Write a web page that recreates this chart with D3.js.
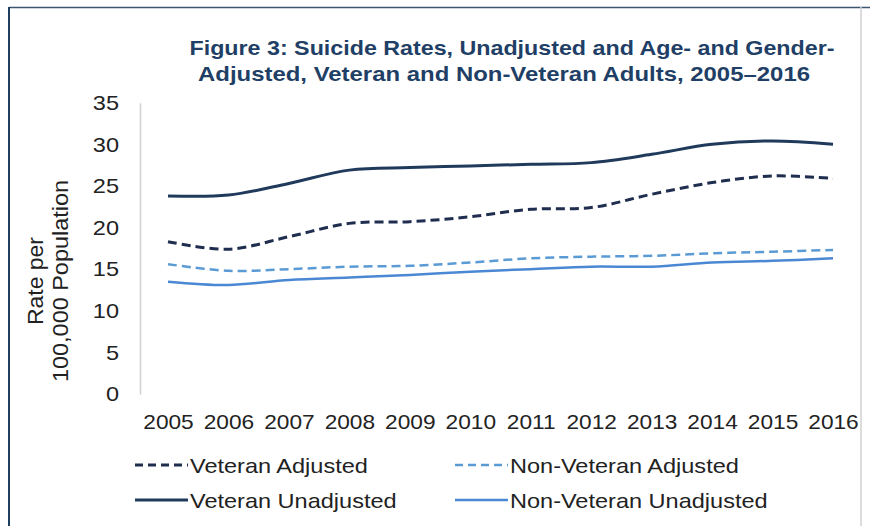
<!DOCTYPE html>
<html><head><meta charset="utf-8">
<script src="https://cdn.jsdelivr.net/npm/d3@7/dist/d3.min.js"></script>
<style>body{margin:0;background:#fff}svg{display:block;font-family:Arial,"Liberation Sans",sans-serif}</style>
</head><body><svg id="c" width="870" height="526"></svg>
<script>
const years = ["2005","2006","2007","2008","2009","2010","2011","2012","2013","2014","2015","2016"];
const veteranAdjusted    = [18.3,17.4,18.9,20.5,20.7,21.3,22.2,22.4,24.0,25.4,26.2,25.9];
const nonVeteranAdjusted = [15.6,14.8,15.0,15.3,15.4,15.8,16.3,16.5,16.6,16.9,17.1,17.3];
const veteranUnadjusted  = [23.8,23.9,25.3,26.9,27.2,27.4,27.6,27.8,28.8,30.0,30.4,30.0];
const nonVeteranUnadjusted=[13.5,13.1,13.7,14.0,14.3,14.7,15.0,15.3,15.3,15.8,16.0,16.3];
const yTicks = [0,5,10,15,20,25,30,35];
const titleLines = ["Figure 3: Suicide Rates, Unadjusted and Age- and Gender-","Adjusted, Veteran and Non-Veteran Adults, 2005\u20132016"];
const series = [
  {name:"Veteran Adjusted", values:veteranAdjusted, color:"#1f2d4f", dash:"9,5", width:3},
  {name:"Non-Veteran Adjusted", values:nonVeteranAdjusted, color:"#5b9bd5", dash:"9,5", width:2.5},
  {name:"Veteran Unadjusted", values:veteranUnadjusted, color:"#203a5c", dash:null, width:3},
  {name:"Non-Veteran Unadjusted", values:nonVeteranUnadjusted, color:"#4a88d4", dash:null, width:2.5}
];

const svg = d3.select("#c");
function stretch(sel, f){ sel.each(function(){ const l=this.getComputedTextLength(); this.setAttribute("textLength", l*f); this.setAttribute("lengthAdjust","spacingAndGlyphs"); }); }

// frame
svg.append("line").attr("x1",9).attr("x2",870).attr("y1",7.5).attr("y2",7.5).attr("stroke","#3b5570").attr("stroke-width",1.5);
svg.append("line").attr("x1",9).attr("x2",9).attr("y1",7).attr("y2",526).attr("stroke","#1f3f60").attr("stroke-width",2);
svg.append("line").attr("x1",861).attr("x2",861).attr("y1",7).attr("y2",526).attr("stroke","#d0d0d0").attr("stroke-width",1.5);

// title
svg.selectAll(".title").data(titleLines).join("text")
  .attr("x",(d,i)=>i?504:512).attr("y",(d,i)=>i?81:55)
  .attr("text-anchor","middle").attr("font-weight","bold").attr("font-size",21)
  .attr("fill","#1f3f66")
  .attr("textLength",(d,i)=>i?612:645).attr("lengthAdjust","spacingAndGlyphs")
  .text(d=>d);

const x = d3.scalePoint().domain(years).range([168,833]);
const y = d3.scaleLinear().domain([0,35]).range([394,102.7]);

const ya = svg.append("g").attr("transform","translate(140,0)")
  .call(d3.axisLeft(y).tickValues(yTicks).tickSize(0).tickPadding(21));
ya.select(".domain").attr("stroke","#d0d0d0").attr("stroke-width",1.5);
ya.selectAll("text").attr("font-size",21).attr("fill","#222").attr("font-family","Arial, 'Liberation Sans', sans-serif");
stretch(ya.selectAll("text"), 1.12);

const xa = svg.append("g").attr("transform","translate(0,394)")
  .call(d3.axisBottom(x).tickSize(0).tickPadding(20));
xa.select(".domain").remove();
xa.selectAll("text").attr("font-size",21).attr("fill","#222").attr("font-family","Arial, 'Liberation Sans', sans-serif");
stretch(xa.selectAll("text"), 1.08);

// y label
const yl = svg.append("text").attr("transform","translate(0,281) rotate(-90)")
  .attr("text-anchor","middle").attr("font-size",22).attr("fill","#222");
yl.append("tspan").attr("x",0).attr("y",43).attr("textLength",88).attr("lengthAdjust","spacingAndGlyphs").text("Rate per");
yl.append("tspan").attr("x",0).attr("y",68).attr("textLength",202).attr("lengthAdjust","spacingAndGlyphs").text("100,000 Population");

const line = d3.line().x((d,i)=>x(years[i])).y(d=>y(d)).curve(d3.curveCatmullRom.alpha(0.5));
svg.selectAll(".series").data(series).join("path")
  .attr("fill","none").attr("stroke",d=>d.color).attr("stroke-width",d=>d.width)
  .attr("stroke-dasharray",d=>d.dash).attr("d",d=>line(d.values));

// legend
const leg = svg.selectAll(".leg").data(series).join("g")
  .attr("transform",(d,i)=>`translate(${i%2? 455:135},${i<2?465:500})`);
leg.append("line").attr("x1",0).attr("x2",53).attr("y1",0).attr("y2",0)
  .attr("stroke",d=>d.color).attr("stroke-width",d=>d.width).attr("stroke-dasharray",d=>d.dash?"8,5":null);
const lt = leg.append("text").attr("x",55).attr("y",0).attr("dy","0.36em").attr("font-size",21).attr("fill","#222").text(d=>d.name);
stretch(lt, 1.12);
</script></body></html>
